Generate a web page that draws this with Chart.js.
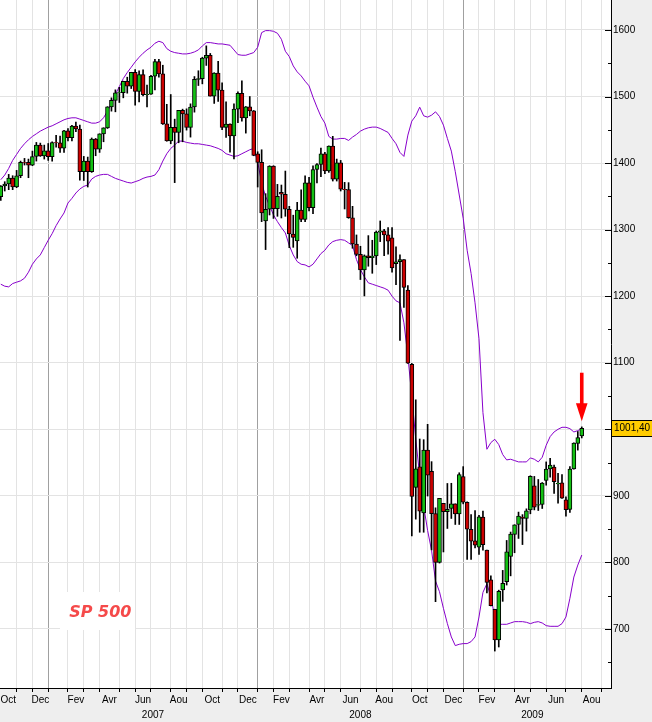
<!DOCTYPE html>
<html><head><meta charset="utf-8">
<script src="https://cdn.jsdelivr.net/npm/chart.js@4.4.0/dist/chart.umd.min.js"></script>
<style>html,body{margin:0;padding:0;background:#eeeeee;}canvas{display:block;}</style>
</head><body>
<canvas id="c" width="652" height="722"></canvas>
<script>
// ---- weekly S&P 500 candles, week index 0 = week of 1 Jan 2007 ----
const firstWeek = -12;
const opens = [
 1349.6,1365.6,1368.6,1377.3,1364.3,1380.9,1401.2,1401.0,1396.7,1409.8,1427.1,1410.8,
 1418.3,1409.7,1430.7,1430.5,1422.2,1448.4,1438.1,1455.5,1451.2,1387.2,1402.8,1387.0,
 1436.1,1420.9,1443.8,1452.9,1484.4,1494.1,1505.6,1505.9,1522.8,1515.7,1536.3,1507.7,
 1532.9,1502.6,1503.4,1530.4,1552.5,1534.1,1459.0,1433.1,1453.6,1445.9,1479.4,1474.0,
 1453.6,1484.3,1525.8,1526.8,1557.6,1561.8,1500.6,1535.3,1509.7,1453.7,1458.7,1440.7,
 1481.1,1504.7,1468.0,1484.5,1478.5,1414.0,1401.0,1313.0,1330.6,1395.4,1331.3,1356.0,
 1353.1,1330.6,1293.4,1283.2,1329.5,1315.2,1370.4,1332.8,1390.3,1397.8,1413.9,1388.3,
 1425.4,1375.9,1400.4,1360.7,1360.0,1317.9,1278.4,1262.9,1239.5,1260.7,1257.8,1260.3,
 1296.3,1298.2,1292.2,1287.8,1249.0,1251.7,1255.1,1209.0,1097.6,912.8,943.5,874.3,
 968.7,936.8,873.3,800.0,888.6,876.1,881.0,887.9,872.8,929.0,890.4,849.6,
 832.5,823.0,868.2,818.6,773.7,729.6,683.4,758.8,771.0,809.0,842.0,856.9,
 868.0,866.0,879.0,915.0,886.0,887.0,923.0,940.3,943.4,918.0,919.5,894.0,
 879.6,940.6,978.6,990.0];
const highs = [
 1366,1372,1383,1381,1389,1403,1407,1406,1418,1431,1430,1427,
 1429.4,1432,1441.6,1440.7,1449.3,1452,1456.8,1461.6,1457,1410,1409,1437.7,
 1437,1444,1453,1484.7,1498,1510,1513.8,1523,1529,1536.4,1540.5,1538.7,
 1540,1517,1532,1555.9,1555.9,1547,1488.3,1503,1466,1479,1481,1481.5,
 1489,1530,1538.7,1559,1576.1,1564.7,1535.8,1552.8,1520.7,1492,1459,1488.9,
 1507,1523.6,1485,1500,1479,1417,1420,1354,1396,1396,1368,1367,
 1388,1335,1321.7,1341,1359.7,1380.9,1378.5,1395.9,1399.1,1422.7,1416,1425.8,
 1440.2,1406,1404,1371,1370.6,1335,1292,1275,1262,1291,1284,1297.9,
 1313,1300.3,1303,1303,1274,1262,1255.1,1216,1099,1044.3,985.4,984.4,
 1007.5,951.4,882,896.2,888.6,918.6,918.9,888,934.7,943.9,891,871.8,
 877.9,870.8,877,818.6,780,729.6,758.3,788,833,845.6,856.6,875.6,
 871.8,880.5,930.2,929.2,924.6,920,951,956.2,946.3,934,931.9,898.7,
 944,979.8,996.7,1003.6];
const lows = [
 1344,1358,1360,1360,1363,1378,1397,1378,1396,1403,1410,1406,
 1404,1403,1424,1416,1416,1433.4,1433.4,1447,1374.3,1373.8,1364,1386,
 1411,1416,1432,1452,1478,1477,1491,1498,1505,1512,1487,1492,
 1500.7,1484.2,1503,1510,1529,1458,1432.8,1429,1370.6,1430.5,1432,1449.5,
 1439,1476.5,1516.5,1519,1546.7,1500.6,1489.6,1492.5,1450,1438.5,1416.5,1406.1,
 1460.7,1463,1445,1471,1411,1364,1312,1270,1322,1316.8,1320,1317.5,
 1320,1272.8,1273.4,1257,1312,1312,1328,1324,1370,1379.5,1384,1386,
 1373,1373,1358,1331,1317,1272,1260.7,1225,1200.4,1245,1234.4,1247.5,
 1282,1261,1263,1236,1217.2,1133.5,1183,1099,839.8,865,845.3,845.3,
 899.7,818.7,741,799,815.7,851,866,857,857,888,804.3,804.5,
 821.7,812,818.4,754,734.5,666.8,672.9,741.5,766,779.8,814.5,836,
 826.8,847,873,878.9,878,881,916,928,903.8,888.9,896,869.3,
 875,940,968.7,987];
const closes = [
 1365.6,1368.6,1377.3,1364.3,1380.9,1401.2,1401.0,1396.7,1409.8,1427.1,1410.8,1418.3,
 1409.7,1430.7,1430.5,1422.2,1448.4,1438.1,1455.5,1451.2,1387.2,1402.8,1387.0,1436.1,
 1420.9,1443.8,1452.9,1484.4,1494.1,1505.6,1505.9,1522.8,1515.7,1536.3,1507.7,1532.9,
 1502.6,1503.4,1530.4,1552.5,1534.1,1459.0,1433.1,1453.6,1445.9,1479.4,1474.0,1453.6,
 1484.3,1525.8,1526.8,1557.6,1561.8,1500.6,1535.3,1509.7,1453.7,1458.7,1440.7,1481.1,
 1504.7,1468.0,1484.5,1478.5,1411.6,1401.0,1325.2,1330.6,1395.4,1331.3,1350.0,1353.1,
 1330.6,1293.4,1288.1,1329.5,1315.2,1370.4,1332.8,1390.3,1397.8,1413.9,1388.3,1425.4,
 1375.9,1400.4,1360.7,1360.0,1317.9,1278.4,1262.9,1239.5,1260.7,1257.8,1260.3,1296.3,
 1298.2,1292.2,1282.8,1242.3,1251.7,1255.1,1213.3,1099.2,899.2,940.6,876.8,968.8,
 931.0,873.3,800.0,896.2,876.1,879.7,887.9,872.8,931.8,890.4,850.1,832.0,
 825.9,868.6,826.8,770.1,735.1,683.4,756.6,768.5,815.9,842.5,856.6,869.6,
 866.2,877.5,929.2,882.9,887.0,919.1,940.1,946.2,921.2,918.9,896.4,879.1,
 940.4,979.3,987.5,1001.4];
// ---- Bollinger bands ----
const upperBand = [
 1375,1382,1392,1404,1413,1422,1429,1435,1440,1444,1448,1451,
 1454,1456,1459,1462,1465,1467,1468,1468,1466,1464,1462,1460,
 1460,1462,1468,1478,1489,1503,1515,1527,1536,1544,1552,1559,
 1565,1570,1574,1580,1583,1581,1572,1568,1566,1565,1564,1564,
 1565,1567,1570,1576,1581,1581,1580,1579,1579,1578,1577,1570,
 1563,1562,1562,1564,1566,1574,1596,1599,1599,1598,1595,1586,
 1568,1560,1546,1537,1531,1523,1516,1499,1484,1470,1460,1440,
 1436,1436,1437,1437,1434,1439,1443,1448,1451,1453,1454,1454,
 1452,1449,1446,1437,1429,1416,1410,1442,1463,1471,1484,1471,
 1469,1472,1477,1470,1457,1437,1418,1387,1352,1317,1269,1234,
 1190,1136,1025,970,980,985,977,962,954,955,953,951,
 951,951,957,955,951,958,976,989,996,1000,1003,1003,
 1001,996,998,1001];
const lowerBand = [
 1218,1215,1214,1219,1221,1223,1227,1236,1248,1256,1262,1273,
 1284,1294,1306,1316,1325,1340,1347,1355,1361,1365,1367,1376,
 1380,1382,1383,1383,1380,1377,1375,1373,1371,1370,1372,1374,
 1377,1379,1380,1382,1390,1403,1414,1422,1427,1433,1433,1431,
 1430,1429,1429,1428,1427,1426,1424,1422,1419,1414,1412,1410,
 1411,1414,1417,1420,1422,1402,1370,1350,1336,1322,1312,1303,
 1295,1276,1262,1252,1248,1247,1244,1248,1256,1264,1269,1277,
 1282,1284,1285,1284,1280,1276,1255,1240,1229,1220,1218,1216,
 1214,1212,1209,1200,1193,1190,1160,1110,1050,985,930,885,
 848,818,772,756,731,708,688,675,677,678,678,681,
 688,718,755,768,748,718,707,707,707,709,711,711,
 711,710,708,710,711,709,705,704,704,704,708,718,
 746,778,796,811];
// ---- axes ----
const gridMonths = [-8,-4,0,5,9,13,18,22,26,31,35,39,44,48,53,57,61,66,70,74,79,83,87,92,96,100,105,109,113,118,122,126,131,135,140];
const yearStarts = [0,53,105];
const monthLabels = ['Oct','Dec','Fev','Avr','Jun','Aou','Oct','Dec','Fev','Avr','Jun','Aou','Oct','Dec','Fev','Avr','Jun','Aou'];
const monthLabelPos = [-10.1,-2,7,15.5,24,33,41.5,50.5,59,68,76.5,85,94,102.5,111,120,128.5,137.5];
const yearLabels = ['2007','2008','2009'];
const yearLabelPos = [26.5,79,122.5];
const yTicks = [650,700,750,800,850,900,950,1000,1050,1100,1150,1200,1250,1300,1350,1400,1450,1500,1550,1600];
const lastPriceText = '1001,40';
const lastPrice = 1001.4;
const titleText = 'SP 500';
const titleWeek = 13.2, titleValue = 727.7;
const arrowWeek = 135, arrowTail = 1085, arrowTip = 1012;

const GREEN = '#14c014', RED = '#cc0000', PURPLE = '#8800cc';
Chart.defaults.font.family = "'Liberation Sans', Arial, sans-serif";
Chart.defaults.font.size = 10;
Chart.defaults.color = '#000';

const weeks = closes.map((_, i) => firstWeek + i);
const bodies = weeks.map((w, i) => ({x: w, y: [opens[i], closes[i]]}));
const wicks = weeks.map((w, i) => ({x: w, y: [lows[i], highs[i]]}));
const bodyColors = weeks.map((w, i) => closes[i] >= opens[i] ? GREEN : RED);
const upPts = weeks.map((w, i) => ({x: w, y: upperBand[i]}));
const loPts = weeks.map((w, i) => ({x: w, y: lowerBand[i]}));

function noPad(s) { s.paddingTop = 0; s.paddingBottom = 0; s.paddingLeft = 0; s.paddingRight = 0; }

const deco = {
  id: 'deco',
  beforeDraw(chart) {
    const {ctx, chartArea: a} = chart;
    ctx.save();
    ctx.fillStyle = '#eeeeee';
    ctx.fillRect(0, 0, chart.width, chart.height);
    ctx.fillStyle = '#ffffff';
    ctx.fillRect(a.left, a.top, a.right - a.left, a.bottom - a.top);
    ctx.restore();
  },
  beforeDatasetsDraw(chart) {
    const {ctx, scales: {x, y}} = chart;
    const cx = x.getPixelForValue(titleWeek), cy = y.getPixelForValue(titleValue);
    ctx.save();
    ctx.fillStyle = '#ffffff';
    ctx.fillRect(Math.round(cx - 40.5), Math.round(cy - 19), 75, 38);
    ctx.fillStyle = '#f54a4a';
    ctx.font = "italic bold 16px 'DejaVu Sans'";
    ctx.textAlign = 'center';
    ctx.textBaseline = 'alphabetic';
    ctx.fillText(titleText, cx, cy + 6);
    ctx.restore();
  },
  afterDatasetsDraw(chart) {
    const {ctx, scales: {x, y}} = chart;
    const ax = x.getPixelForValue(arrowWeek);
    const ty = y.getPixelForValue(arrowTail), py = y.getPixelForValue(arrowTip);
    ctx.save();
    ctx.fillStyle = '#ff0000';
    ctx.fillRect(ax - 1.8, ty, 3.6, py - ty - 16);
    ctx.beginPath();
    ctx.moveTo(ax - 5.8, py - 18);
    ctx.lineTo(ax + 5.8, py - 18);
    ctx.lineTo(ax, py);
    ctx.closePath();
    ctx.fill();
    ctx.restore();
  },
  afterDraw(chart) {
    const {ctx, chartArea: a, scales: {y}} = chart;
    ctx.save();
    ctx.fillStyle = '#000';
    yTicks.forEach(v => {
      const py = Math.round(y.getPixelForValue(v));
      if (v % 100 === 0) ctx.fillRect(a.right - 6, py, 6, 1);
      else ctx.fillRect(a.right - 3, py, 3, 1);
    });
    const cy = Math.round(y.getPixelForValue(lastPrice));
    ctx.fillStyle = '#ffcc00';
    ctx.fillRect(a.right + 1, cy - 8, chart.width - a.right - 1, 16);
    ctx.fillStyle = '#000';
    ctx.fillRect(a.right, cy - 8, chart.width - a.right, 1);
    ctx.fillRect(a.right, cy + 8, chart.width - a.right, 1);
    ctx.font = "10px 'Liberation Sans'";
    ctx.textAlign = 'left';
    ctx.textBaseline = 'middle';
    ctx.fillText(lastPriceText, a.right + 3, cy + 0.5);
    ctx.restore();
  }
};

new Chart(document.getElementById('c'), {
  type: 'bar',
  data: {
    datasets: [
      {type: 'line', data: upPts, borderColor: PURPLE, borderWidth: 1, pointRadius: 0, tension: 0, order: 10},
      {type: 'line', data: loPts, borderColor: PURPLE, borderWidth: 1, pointRadius: 0, tension: 0, order: 10},
      {type: 'bar', data: wicks, backgroundColor: '#000', borderWidth: 0, barThickness: 1, grouped: false, order: 5},
      {type: 'bar', data: bodies, backgroundColor: bodyColors, borderColor: '#000', borderWidth: 1,
       borderSkipped: false, barThickness: 4, grouped: false, order: 1}
    ]
  },
  options: {
    responsive: false,
    animation: false,
    devicePixelRatio: 1,
    events: [],
    layout: {padding: 0},
    plugins: {legend: {display: false}, tooltip: {enabled: false}, title: {display: false}},
    scales: {
      x: {
        type: 'linear', position: 'bottom', min: -12.2, max: 142.4, offset: false, weight: 0,
        afterBuildTicks: s => { s.ticks = gridMonths.map(v => ({value: v})); },
        afterFit: s => { s.height = 6; noPad(s); },
        ticks: {display: false},
        grid: {offset: false, tickLength: 4, tickColor: '#000',
               color: c => (c.tick && yearStarts.includes(c.tick.value)) ? '#a0a0a0' : '#e3e3e3'},
        border: {color: '#000', width: 1}
      },
      xm: {
        type: 'linear', axis: 'x', position: 'bottom', min: -12.2, max: 142.4, offset: false, weight: 1,
        afterBuildTicks: s => { s.ticks = monthLabelPos.map(v => ({value: v})); },
        afterFit: s => { s.height = 15; noPad(s); },
        ticks: {autoSkip: false, maxRotation: 0, padding: 0, font: {size: 10}, color: '#000',
                callback: (v, i) => monthLabels[i]},
        grid: {display: false, drawTicks: false},
        border: {display: false}
      },
      xy: {
        type: 'linear', axis: 'x', position: 'bottom', min: -12.2, max: 142.4, offset: false, weight: 2,
        afterBuildTicks: s => { s.ticks = yearLabelPos.map(v => ({value: v})); },
        afterFit: s => { s.height = 13; noPad(s); },
        ticks: {autoSkip: false, maxRotation: 0, padding: 0, font: {size: 10}, color: '#000',
                callback: (v, i) => yearLabels[i]},
        grid: {display: false, drawTicks: false},
        border: {display: false}
      },
      y: {
        type: 'linear', position: 'right', min: 611.3, max: 1645, beginAtZero: false,
        afterBuildTicks: s => { s.ticks = yTicks.map(v => ({value: v})); },
        afterFit: s => { s.width = 41; noPad(s); },
        ticks: {padding: 2, font: {size: 10}, color: '#000',
                callback: v => (v % 100 === 0 ? String(v) : '')},
        grid: {drawTicks: false, color: c => (c.tick && c.tick.value % 100 === 0) ? '#e3e3e3' : 'rgba(0,0,0,0)'},
        border: {color: '#000', width: 1}
      }
    }
  },
  plugins: [deco]
});
</script>
</body></html>
